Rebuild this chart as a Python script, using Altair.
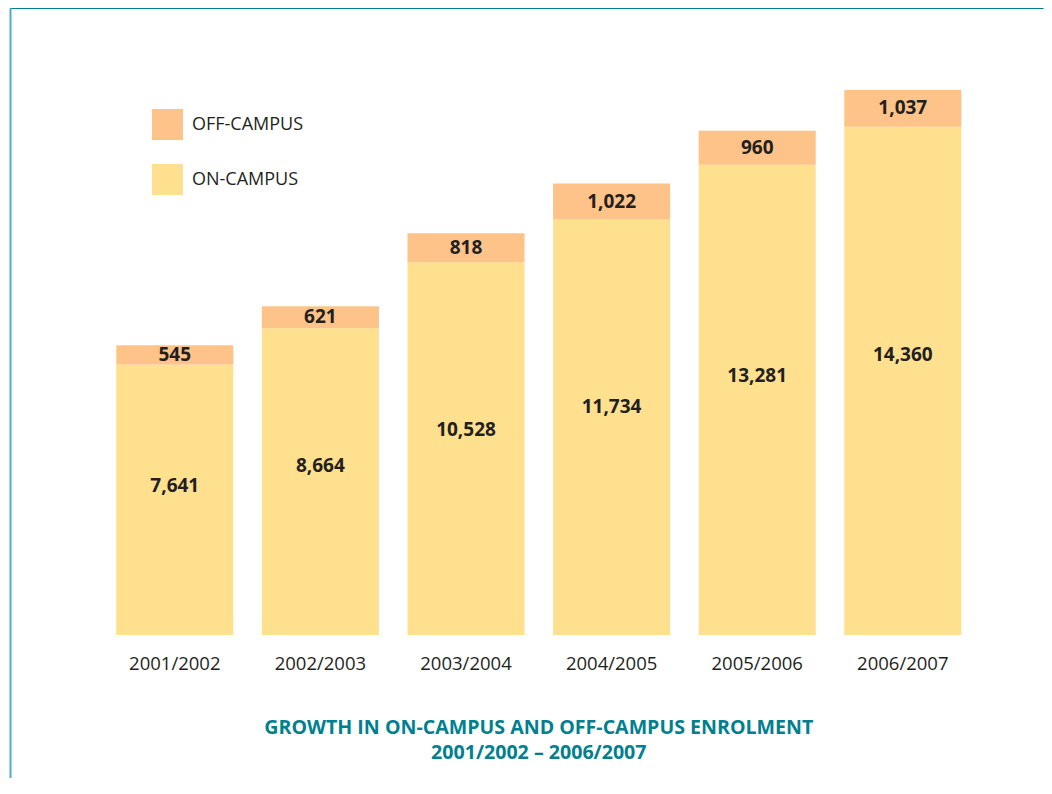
import altair as alt
import pandas as pd

years = ["2001/2002", "2002/2003", "2003/2004", "2004/2005", "2005/2006", "2006/2007"]
on_campus = [7641, 8664, 10528, 11734, 13281, 14360]
off_campus = [545, 621, 818, 1022, 960, 1037]
series = ["OFF-CAMPUS", "ON-CAMPUS"]
colors = ["#FDC388", "#FEE08F"]
title_lines = ["GROWTH IN ON-CAMPUS AND OFF-CAMPUS ENROLMENT", "2001/2002 – 2006/2007"]

rows = []
for y, on, off in zip(years, on_campus, off_campus):
    rows.append({"year": y, "type": "ON-CAMPUS", "value": on, "on": on, "ord": 0})
    rows.append({"year": y, "type": "OFF-CAMPUS", "value": off, "on": on, "ord": 1})
df = pd.DataFrame(rows)

W = 873.6
H = 566.4
FONT = "Open Sans"
DARK = "#231F20"
TEAL = "#00808F"

x_enc = alt.X("year:N", sort=years, title=None,
              scale=alt.Scale(paddingInner=0.196, paddingOuter=0.098),
              axis=alt.Axis(labelAngle=0, ticks=False, tickSize=0, domain=False,
                            labelFontSize=18.5, labelFont=FONT, labelColor=DARK,
                            labelPadding=19, grid=False))
y_scale = alt.Scale(domain=[0, 16000])

base = alt.Chart(df)

bars = base.mark_bar().encode(
    x=x_enc,
    y=alt.Y("value:Q", stack="zero", scale=y_scale, axis=None),
    color=alt.Color("type:N", scale=alt.Scale(domain=series, range=colors),
                    legend=alt.Legend(title=None, orient="none", legendX=50, legendY=40.4,
                                      symbolType="square", symbolSize=961,
                                      symbolStrokeWidth=0, symbolOpacity=1,
                                      labelFontSize=18, labelFont=FONT, labelColor=DARK,
                                      labelOffset=9, rowPadding=24, padding=0)),
    order=alt.Order("ord:Q", sort="ascending"),
)

labels = base.transform_calculate(
    ly="datum.type == 'ON-CAMPUS' ? datum.value * 0.55 : datum.on + datum.value / 2"
).mark_text(font=FONT, fontSize=19, fontWeight="bold", color=DARK,
            align="center", baseline="middle").encode(
    x=alt.X("year:N", sort=years),
    y=alt.Y("ly:Q", scale=y_scale),
    text=alt.Text("value:Q", format=","),
)

one = alt.Chart(pd.DataFrame({"k": [0]}))
top_line = one.mark_rule(color=TEAL, strokeWidth=1.5).encode(
    x=alt.value(-92), x2=alt.value(W + 68), y=alt.value(-60.3))
left_line = one.mark_rule(color="#4FB0C0", strokeWidth=2).encode(
    x=alt.value(-91.5), y=alt.value(-60.3), y2=alt.value(H + 143))

t1 = one.mark_text(font=FONT, fontSize=19.6, fontWeight="bold", color=TEAL,
                   align="center", baseline="middle").encode(
    x=alt.value(W / 2), y=alt.value(659.4), text=alt.value(title_lines[0]))
t2 = one.mark_text(font=FONT, fontSize=19.6, fontWeight="bold", color=TEAL,
                   align="center", baseline="middle").encode(
    x=alt.value(W / 2), y=alt.value(684.4), text=alt.value(title_lines[1]))

chart = alt.layer(bars, labels, top_line, left_line, t1, t2).properties(
    width=W, height=H,
    background="white",
    autosize=alt.AutoSizeParams(type="none"),
    padding={"left": 94, "top": 60.6, "right": 68.4, "bottom": 143},
).configure_view(strokeWidth=0, stroke=None)

chart.save("out.html", embed_options={"renderer": "svg", "actions": False})
